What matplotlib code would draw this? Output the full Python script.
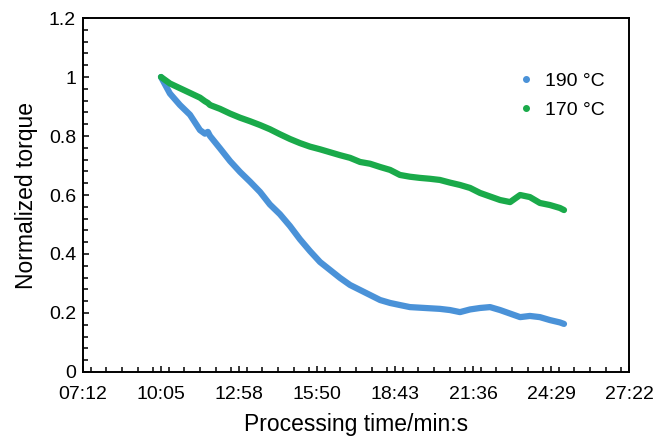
import matplotlib.pyplot as plt
from matplotlib.lines import Line2D
from matplotlib.ticker import FixedLocator, MultipleLocator, FuncFormatter

plt.rcParams['font.family'] = ['Liberation Sans', 'DejaVu Sans']

# processing time in minutes
time_min = [10.08, 10.41, 10.78, 11.15, 11.52, 11.70, 11.81, 11.89, 12.26, 12.63,
            13.00, 13.37, 13.74, 14.10, 14.47, 14.84, 15.21, 15.58, 15.95, 16.32,
            16.69, 17.06, 17.43, 17.80, 18.17, 18.54, 18.90, 19.27, 19.64, 20.01,
            20.38, 20.75, 21.12, 21.49, 21.86, 22.23, 22.60, 22.97, 23.34, 23.70,
            24.07, 24.44, 24.81, 24.96]

torque_190 = [1.0, 0.944, 0.905, 0.872, 0.82, 0.808, 0.814, 0.80, 0.758, 0.715,
              0.678, 0.645, 0.61, 0.568, 0.535, 0.495, 0.45, 0.41, 0.373, 0.346,
              0.319, 0.295, 0.278, 0.261, 0.244, 0.234, 0.227, 0.22, 0.218, 0.216,
              0.214, 0.21, 0.203, 0.212, 0.217, 0.22, 0.21, 0.198, 0.186, 0.19,
              0.186, 0.176, 0.168, 0.163]

torque_170 = [1.0, 0.978, 0.962, 0.946, 0.93, 0.918, 0.912, 0.905, 0.892, 0.876,
              0.862, 0.85, 0.837, 0.823, 0.806, 0.79, 0.776, 0.764, 0.755, 0.745,
              0.735, 0.726, 0.712, 0.706, 0.695, 0.685, 0.668, 0.662, 0.658, 0.655,
              0.651, 0.642, 0.634, 0.624, 0.607, 0.595, 0.583, 0.576, 0.600, 0.593,
              0.573, 0.566, 0.556, 0.549]

# Excel style time ticks: every 0.002 day = 2.88 min, from 0.005 day
tick_min = [7.2, 10.08, 12.96, 15.84, 18.72, 21.6, 24.48, 27.36]

blue = '#4a92d8'
green = '#1aaa4a'


def mmss(v, pos):
    s = int(round(v * 60))
    return '%02d:%02d' % (s // 60, s % 60)


fig = plt.figure(figsize=(6.55, 4.36), dpi=100)
ax = fig.add_axes([0.1267, 0.1468, 0.8336, 0.8119])

ax.plot(time_min, torque_190, color=blue, lw=4.5, solid_capstyle='round',
        solid_joinstyle='round')
ax.plot(time_min, torque_170, color=green, lw=4.5, solid_capstyle='round',
        solid_joinstyle='round')

ax.set_xlim(7.2, 27.36)
ax.set_ylim(0, 1.2)
ax.xaxis.set_major_locator(FixedLocator(tick_min))
ax.xaxis.set_major_formatter(FuncFormatter(mmss))
ax.xaxis.set_minor_locator(MultipleLocator(2.88 / 5))
ax.yaxis.set_major_locator(MultipleLocator(0.2))
ax.yaxis.set_major_formatter(FuncFormatter(lambda v, p: '%g' % round(v, 1)))
ax.yaxis.set_minor_locator(MultipleLocator(0.04))

ax.tick_params(which='both', direction='in', labelsize=14, width=1.1)
ax.tick_params(which='major', length=4)
ax.tick_params(which='minor', length=3.5)
ax.tick_params(axis='x', pad=10)
ax.tick_params(axis='y', pad=5)
for sp in ax.spines.values():
    sp.set_linewidth(1.4)

ax.set_xlabel('Processing time/min:s', fontsize=16.5, labelpad=7)
ax.set_ylabel('Normalized torque', fontsize=16.5, labelpad=8)

handles = [Line2D([], [], ls='none', marker='o', ms=4, color=blue),
           Line2D([], [], ls='none', marker='o', ms=4, color=green)]
ax.legend(handles, ['190 °C', '170 °C'], loc='upper left',
          bbox_to_anchor=(0.765, 0.895), frameon=False, fontsize=14,
          handlelength=0.8, handletextpad=0.6, labelspacing=0.55)

fig.savefig('out.png', dpi=100)
